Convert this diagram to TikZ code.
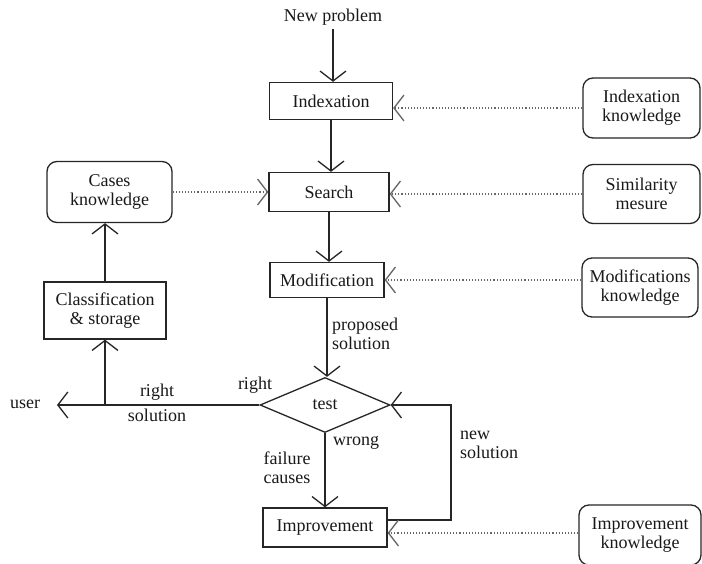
\documentclass[tikz,border=0pt]{standalone}
\usepackage{fontspec}
\setmainfont{Liberation Serif}
\usetikzlibrary{shapes.geometric,arrows.meta}
\begin{document}
\begin{tikzpicture}[x=1pt,y=-1pt,
  every node/.style={font=\rmfamily\fontsize{18}{19}\selectfont, text=black!90},
  box/.style={draw=black!85, line width=1.3pt, inner sep=0pt, align=center},
  rbox/.style={box, rounded corners=10pt},
  lbl/.style={align=left, inner sep=0pt},
  tip/.style={-{Straight Barb[length=10pt,width=26pt,line width=1.3pt]}},
  flow/.style={draw=black!85, line width=1.3pt, tip},
  dots/.style={draw=black!60, line width=1.1pt, dotted, tip}
]
\useasboundingbox (0,0) rectangle (702,564);
\fill[white] (0,0) rectangle (702,564);

% main column
\node (np) at (333,17) {New problem};
\node[box, minimum width=123pt, minimum height=37pt] (idx) at (331,101) {Indexation};
\node[box, minimum width=120pt, minimum height=39pt] (srch) at (329,192) {Search};
\node[box, minimum width=114pt, minimum height=35pt] (mod) at (327,280) {Modification};
\node[box, diamond, minimum width=130pt, minimum height=55pt, aspect=2.4] (test) at (325,405) {test};
\node[box, minimum width=124pt, minimum height=39pt] (imp) at (325,527.5) {Improvement};

% left column
\node[rbox, minimum width=125pt, minimum height=61pt] (cases) at (109.5,192) {Cases\\knowledge};
\node[box, minimum width=122pt, minimum height=57pt] (cls) at (105,310.5) {Classification\\\& storage};
\node (user) at (25,404) {user};
\coordinate (uend) at (57,405);

% right column
\node[rbox, minimum width=117pt, minimum height=60pt] (ik) at (641.5,108) {Indexation\\knowledge};
\node[rbox, minimum width=117pt, minimum height=59pt] (sm) at (641.5,194) {Similarity\\mesure};
\node[rbox, minimum width=116pt, minimum height=59pt] (mk) at (640,287.5) {Modifications\\knowledge};
\node[rbox, minimum width=122pt, minimum height=60pt] (ikn) at (640,535) {Improvement\\knowledge};

% labels
\node[lbl, anchor=west] (lps) at (332,334) {proposed\\solution};
\node (lr) at (255,385) {right};
\node[align=center, inner sep=0pt, font=\rmfamily\fontsize{18}{25}\selectfont] (lrs) at (157,403) {right\\solution};
\node[lbl, anchor=west] (lw) at (333,443) {wrong};
\node[align=center, inner sep=0pt] (lfc) at (287,468) {failure\\causes};
\node[lbl, anchor=west] (lns) at (460,445) {new\\solution};

% flow arrows
\draw[flow] (np) -- (np |- idx.north);
\draw[flow] (idx) -- (idx |- srch.north);
\draw[flow] (srch) -- (srch |- mod.north);
\draw[flow] (mod) -- (mod |- test.north);
\draw[flow] (test) -- (test |- imp.north);
\draw[flow] (test.west) -- (uend);
\draw[flow] (cls.south |- test.west) -- (cls.south);
\draw[flow] (cls.north) -- (cls.north |- cases.south);
\draw[flow] (imp.east |- 0,520) -- (451,520) -- (451,405) -- (test.east);

% knowledge (dotted)
\draw[dots] (cases.east) -- (srch.west);
\draw[dots] (ik.west) -- (idx.east |- ik.west);
\draw[dots] (sm.west) -- (srch.east |- sm.west);
\draw[dots] (mk.west |- mod.east) -- (mod.east);
\draw[dots] (ikn.west |- 0,533) -- (imp.east |- 0,533);
\end{tikzpicture}
\end{document}
